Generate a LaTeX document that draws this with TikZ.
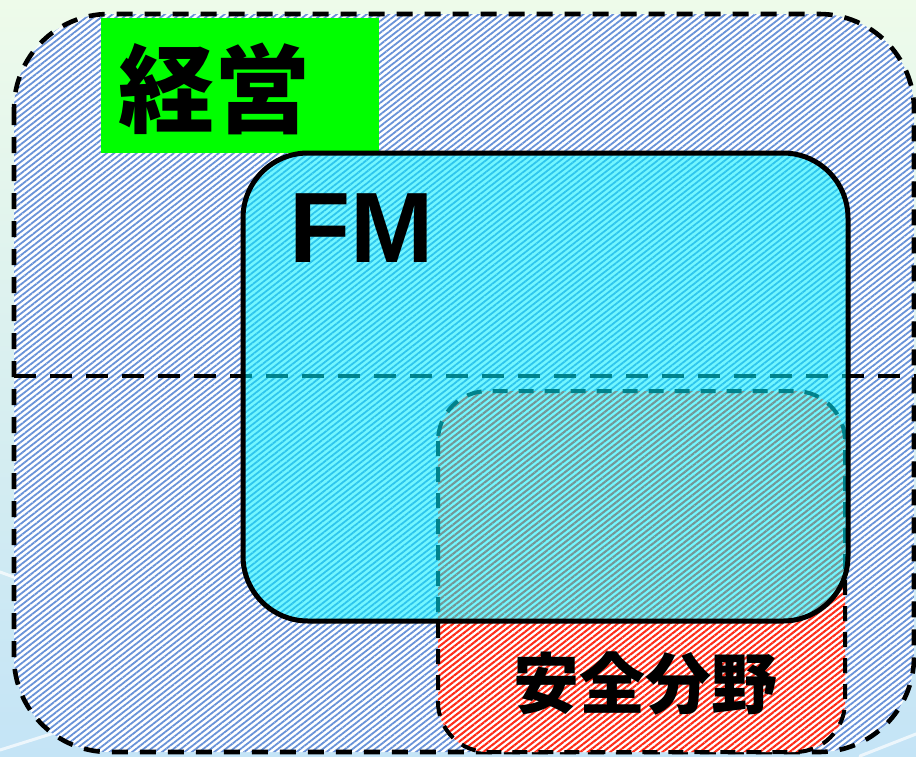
\documentclass[tikz,border=0pt]{standalone}
\usepackage{fontspec}
\setmainfont{Liberation Sans}
\newfontfamily\cjk{Noto Sans CJK JP}
\usetikzlibrary{patterns.meta}
\definecolor{bgtop}{RGB}{238,251,234}
\definecolor{bgbot}{RGB}{196,228,246}
\definecolor{hatchblue}{RGB}{104,146,216}
\definecolor{hatchred}{RGB}{255,44,24}
\definecolor{fmcyan}{RGB}{0,240,255}
\definecolor{keigreen}{RGB}{0,255,0}
\tikzset{
  outerbox/.style={line width=4.6pt, dash pattern=on 16pt off 12pt, rounded corners=95pt,
    preaction={fill=white}, pattern={Lines[angle=38,distance=4.6pt,line width=1.8pt]}, pattern color=hatchblue},
  midline/.style={line width=4.6pt, dash pattern=on 22pt off 14pt},
  safebox/.style={line width=4pt, dash pattern=on 15pt off 11pt, rounded corners=50pt,
    preaction={fill=white}, pattern={Lines[angle=38,distance=4.6pt,line width=2.1pt]}, pattern color=hatchred},
  fmbox/.style={line width=5pt, rounded corners=65pt, fill=fmcyan, fill opacity=0.55, draw opacity=1},
  streak/.style={white, line width=3pt, opacity=0.7, line cap=round},
  bigtxt/.style={inner sep=0pt, text=black}
}
\begin{document}
\begin{tikzpicture}[x=1pt,y=-1pt]
\useasboundingbox (0,0) rectangle (916,756);
% background
\fill[top color=bgtop, bottom color=bgbot] (0,0) rectangle (916,756);
\draw[streak] (0,572) -- (22,580);
\draw[streak] (0,750) -- (70,728);
\draw[streak] (860,756) -- (916,734);
% outer management area
\draw[outerbox] (14,14) rectangle (914,752);
% horizontal dashed divider
\coordinate (midL) at (14,376);
\coordinate (midR) at (916,376);
\draw[midline] (midL) -- (midR);
% safety area
\draw[safebox] (438,391) rectangle (845,752);
% management label
\fill[keigreen] (101,18) rectangle (379,153);
\node[bigtxt] (keiei) at (214,89) {\cjk\bfseries\fontsize{96}{96}\selectfont 経営};
% FM area
\draw[fmbox] (243,153) rectangle (848,621);
\node[bigtxt, anchor=base west] (fm) at (289,262) {\bfseries\fontsize{100}{100}\selectfont FM};
% safety label
\node[bigtxt] (anzen) at (645,684) {\cjk\bfseries\fontsize{66}{66}\selectfont 安全分野};
\end{tikzpicture}
\end{document}
